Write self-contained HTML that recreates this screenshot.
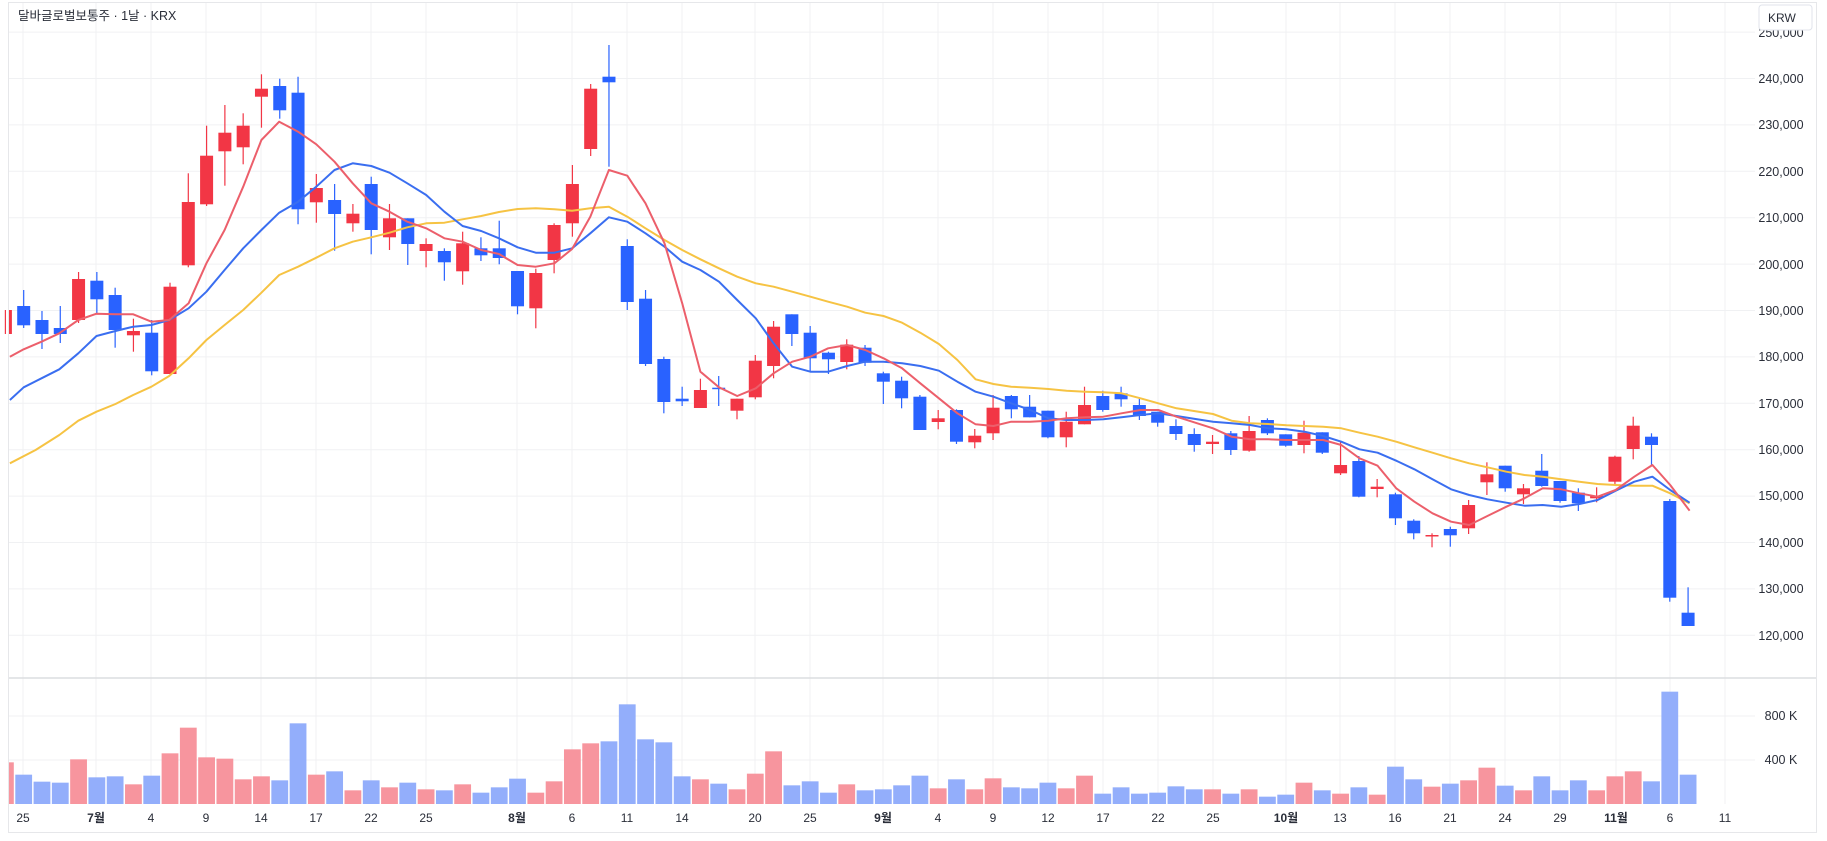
<!DOCTYPE html>
<html><head><meta charset="utf-8">
<style>
html,body{margin:0;padding:0;background:#fff;width:1827px;height:841px;overflow:hidden}
svg{display:block}
text{font-family:"Liberation Sans","Noto Sans CJK KR",sans-serif;fill:#2a2e39}
</style></head>
<body>
<svg id="s" width="1827" height="841" viewBox="0 0 1827 841" xmlns="http://www.w3.org/2000/svg">
<rect x="0" y="0" width="1827" height="841" fill="#fff"/>
<rect x="8.5" y="2.5" width="1808" height="830" fill="none" stroke="#e6e7ea"/>
<g id="grid"></g>
<line x1="9" y1="678" x2="1816" y2="678" stroke="#dcdde0" stroke-width="1.5"/>
<g id="vol"></g>
<g id="cand"></g>
<g id="ma"></g>
<g font-size="12.5" text-anchor="middle">
<text x="1781" y="83">240,000</text>
<text x="1781" y="129">230,000</text>
<text x="1781" y="176">220,000</text>
<text x="1781" y="222">210,000</text>
<text x="1781" y="269">200,000</text>
<text x="1781" y="315">190,000</text>
<text x="1781" y="361">180,000</text>
<text x="1781" y="408">170,000</text>
<text x="1781" y="454">160,000</text>
<text x="1781" y="500">150,000</text>
<text x="1781" y="547">140,000</text>
<text x="1781" y="593">130,000</text>
<text x="1781" y="640">120,000</text>
<text x="1781" y="37">250,000</text>
<text x="1781" y="720">800 K</text>
<text x="1781" y="764">400 K</text>
</g>
<rect x="1759" y="5" width="53" height="25" rx="3" fill="#fff" stroke="#e0e3eb"/>
<text x="1768" y="22" font-size="12">KRW</text>
<text x="18" y="20" font-size="12.5">달바글로벌보통주 · 1날 · KRX</text>
<g font-size="12" text-anchor="middle">
<text x="23" y="822">25</text><text x="96" y="822" font-weight="bold">7월</text>
<text x="151" y="822">4</text><text x="206" y="822">9</text><text x="261" y="822">14</text>
<text x="316" y="822">17</text><text x="371" y="822">22</text><text x="426" y="822">25</text>
<text x="517" y="822" font-weight="bold">8월</text><text x="572" y="822">6</text>
<text x="627" y="822">11</text><text x="682" y="822">14</text><text x="755" y="822">20</text>
<text x="810" y="822">25</text><text x="883" y="822" font-weight="bold">9월</text>
<text x="938" y="822">4</text><text x="993" y="822">9</text><text x="1048" y="822">12</text>
<text x="1103" y="822">17</text><text x="1158" y="822">22</text><text x="1213" y="822">25</text>
<text x="1286" y="822" font-weight="bold">10월</text><text x="1340" y="822">13</text>
<text x="1395" y="822">16</text><text x="1450" y="822">21</text><text x="1505" y="822">24</text>
<text x="1560" y="822">29</text><text x="1616" y="822" font-weight="bold">11월</text>
<text x="1670" y="822">6</text><text x="1725" y="822">11</text>
</g>
</svg>
<script>
var NS="http://www.w3.org/2000/svg";
function el(p,t,a){var e=document.createElementNS(NS,t);for(var k in a)e.setAttribute(k,a[k]);p.appendChild(e);return e;}
var X=function(k){return 5.4+k*18.29;};
var grid=document.getElementById('grid');
var vx=[23,96,151,206,261,316,371,426,517,572,627,682,755,810,883,938,993,1048,1103,1158,1213,1286,1340,1395,1450,1505,1560,1616,1670,1725];
vx.forEach(function(x){el(grid,'line',{x1:x,y1:3,x2:x,y2:804,stroke:'#f0f1f3','stroke-width':1});});
for(var p=250000;p>=120000;p-=10000){var y=78.5+(240000-p)/10000*46.4;el(grid,'line',{x1:9,y1:y,x2:1755,y2:y,stroke:'#f0f1f3'});}
[716,760].forEach(function(y){el(grid,'line',{x1:9,y1:y,x2:1755,y2:y,stroke:'#f0f1f3'});});
// candles: color, o, c, hi, lo (top/bottom y)
var C=[
['r',310,334,310,334],['b',306,325.3,290,328],['b',320,334,311,349],['b',328,334,306,343],['r',279,320,272,323],
['b',280.7,299.3,272,313],['b',295,330,287.7,347.7],['r',331,335.3,318.7,351.7],['b',332.7,371.3,320,375.3],['r',286.7,374,282.7,374],
['r',202,265.3,173.3,267.3],['r',155.7,204.3,125.7,206],['r',132.7,151.3,105,185.7],['r',125.7,147.3,113.3,164.3],['r',88.7,96.7,74.3,127.7],
['b',86,110.3,78.7,118.7],['b',92.7,209.3,76.7,224.3],['r',188,202.3,174,222.7],['b',200,214,184,250.7],['r',213.7,223.3,204,231.7],
['b',184,230,176.7,254.3],['r',218.3,237.3,204,250],['b',218.3,244,218.3,265],['r',244,251,238.3,267.3],['b',251,262.3,248.3,280.7],
['r',243.3,271.3,231.7,284.7],['b',248.3,255.3,237.3,261],['b',248.3,258,220.7,264.3],['b',271,306.3,271,314.3],['r',273,308.3,268.7,328.3],
['r',225,260,223.3,273.3],['r',184,223.3,165,236.7],['r',88.7,149,84,156],['b',76.7,82.3,45,166.7],
['b',246,302,239.3,310],['b',298.7,364,290,366],['b',359,402,356.7,413.3],['b',398.7,401.3,386.7,406],['r',390,408,378.7,408],
['b',387.7,388.7,376,406],['r',398.7,410.7,398.7,419.3],['r',360.7,397.3,355,399.3],['r',326.7,366,321,378.3],['b',314.3,334,314.3,346],
['b',332.7,358.3,326,371.7],['b',352.7,359.3,351.7,374],['r',344.7,362,339.3,369.3],['b',347.7,362.7,345,366],['b',373.3,381.7,371.7,404],
['b',380.7,398.3,376.7,408.3],['b',396.7,430,395,430],['r',418.3,422,410,429.3],['b',410,441.7,409.3,444],['r',435.7,442.3,429,448.3],
['r',407.7,433.3,395,440],['b',396,409.3,395,418.3],['b',406.7,417.3,395,417.3],['b',410.7,437.3,410.7,438.3],['r',421.7,437.3,411.7,447.3],
['r',405,424.3,386.7,424.3],['b',396,410,390.7,411.7],['b',393.3,399.3,386.7,406.7],['b',405,416,398.3,420],['b',411.7,422.7,411.7,426.7],
['b',426,434,419.3,440],['b',434,445,428.3,451.7],['r',441.7,444,435,454],['b',433.3,450,431,455],['r',431,450.7,416,451.7],
['b',420,433.3,418.3,435],['b',434.3,445.7,434.3,446.7],['r',432.7,445,420.7,453.3],['b',432.3,452.7,432.3,454],['r',465,473.3,440.7,475],
['b',461,496.7,456,497.3],['r',486.7,489,479,497.3],['b',494.3,518.3,492.7,525],['b',520.7,533.3,519.3,539.3],['r',535,536.3,533.3,547.3],
['b',529,535.3,526.7,546.7],['r',505,528.3,500,534],['r',474.3,482.3,462.3,495],['b',465.7,488.3,465.7,491.7],['r',488.3,494.3,484,504],
['b',470.7,486,454,486.7],['b',481,501,481,502.7],['b',492.7,503.3,488.3,511],['r',495.7,498.3,487.3,502.3],['r',456.7,481.7,455.7,484],
['r',425.7,449,416.7,459.3],['b',436.7,445,433.3,465],['b',501,597.7,499,601.7],['b',612.7,626,587.3,626]];
var V=[247,284,305,308,238,292,289,313,287,220,143,232,236,298,289,301,130,284,274,331,301,322,308,328,331,313,338,322,296,338,304,208,190,184,73,178,187,289,298,311,328,281,214,316,304,338,313,331,328,316,287,
325,298,328,295,322,325,308,325,287,341,322,341,338,319,328,328,341,328,350,344,308,331,341,322,344,260,298,320,311,301,263,317,331,289,331,301,331,289,274,304,35,284];
var cg=document.getElementById('cand'),vg=document.getElementById('vol');
C.forEach(function(c,k){
  var x=X(k),col=c[0]=='r'?'#f23645':'#2962ff',vc=c[0]=='r'?'#f7959e':'#93aefb';
  var top=Math.min(c[1],c[2]),bot=Math.max(c[1],c[2]),h=Math.max(bot-top,1.5);
  var hi=Math.min(c[3],top),lo=Math.max(c[4],bot);
  el(cg,'line',{x1:x,y1:hi,x2:x,y2:lo,stroke:col,'stroke-width':1.2});
  var l=Math.max(x-6.5,9);el(cg,'rect',{x:l,y:top,width:x+6.5-l,height:h,fill:col});
  var vt=680+V[k]/3;var vl=Math.max(x-8.4,9);
  el(vg,'rect',{x:vl,y:vt,width:x+8.4-vl,height:804-vt,fill:vc});
});
function path(segs,col){
  var pts=[];segs.forEach(function(s){s.pts.forEach(function(q){pts.push([s.x0+q[0]*s.sx,s.y0+q[1]/3]);});});
  pts.sort(function(a,b){return a[0]-b[0];});
  var out=[],last=-1e9;pts.forEach(function(q){if(q[0]-last>4){out.push(q);last=q[0];}});
  el(document.getElementById('ma'),'polyline',{points:out.map(function(q){return q[0].toFixed(1)+','+q[1].toFixed(1)}).join(' '),fill:'none',stroke:col,'stroke-width':2,'stroke-linejoin':'round'});
}
var z4={x0:0,sx:0.3954,y0:30},z5={x0:600,sx:0.3954,y0:30},z6={x0:1180,sx:0.4126,y0:300};
function seg(z,p,lim){return {x0:z.x0,sx:z.sx,y0:z.y0,pts:p.filter(function(q){var ax=z.x0+q[0]*z.sx;return ax>=lim[0]&&ax<lim[1];})};}
var R4=[[25,980],[60,958],[105,935],[150,910],[198,870],[244,851],[292,853],[337,853],[383,875],[428,870],[477,820],[522,700],[568,600],[615,470],[661,330],[706,275],[754,305],[800,343],[846,395],[892,460],[939,520],[985,545],[1030,575],[1078,595],[1124,625],[1170,635],[1217,660],[1262,672],[1309,705],[1355,710],[1402,700],[1447,657],[1493,560],[1540,420]];
var B4=[[25,1110],[60,1072],[105,1045],[150,1018],[198,970],[244,918],[292,903],[337,890],[383,885],[428,870],[477,835],[522,785],[568,720],[615,655],[661,600],[706,548],[754,515],[800,470],[846,420],[892,400],[939,408],[985,428],[1030,460],[1078,495],[1124,545],[1170,588],[1217,603],[1262,625],[1309,652],[1355,668],[1402,668],[1447,655],[1493,610],[1540,562]];
var Y4=[[25,1300],[90,1260],[150,1215],[198,1172],[244,1145],[292,1122],[337,1095],[383,1070],[428,1038],[477,985],[522,930],[568,885],[615,840],[661,788],[706,735],[754,710],[800,683],[846,655],[892,635],[939,622],[985,608],[1030,592],[1078,580],[1124,578],[1170,568],[1217,558],[1262,546],[1309,537],[1355,535],[1402,538],[1447,542],[1493,535],[1540,530]];
var R5=[[69,437],[115,520],[163,640],[208,820],[254,1025],[301,1072],[347,1098],[394,1075],[439,1030],[486,995],[532,980],[577,955],[625,945],[671,960],[717,985],[764,1015],[810,1060],[857,1105],[904,1150],[950,1183],[995,1188],[1040,1175],[1088,1175],[1134,1172],[1180,1165],[1227,1162],[1273,1160],[1319,1150],[1367,1140],[1412,1140],[1458,1160],[1504,1185]];
var B5=[[69,575],[115,610],[163,650],[208,695],[254,720],[301,755],[347,810],[394,865],[439,940],[486,1010],[532,1025],[577,1025],[625,1008],[671,995],[717,995],[764,1000],[810,1008],[857,1022],[904,1055],[950,1085],[995,1100],[1040,1120],[1088,1140],[1134,1165],[1180,1170],[1227,1170],[1273,1168],[1319,1162],[1367,1155],[1412,1150],[1458,1158],[1504,1170]];
var Y5=[[69,560],[115,595],[163,630],[208,660],[254,688],[301,715],[347,740],[394,760],[439,770],[486,785],[532,800],[577,815],[625,830],[671,848],[717,858],[764,878],[810,908],[857,942],[904,990],[950,1048],[995,1062],[1040,1070],[1088,1073],[1134,1077],[1180,1082],[1227,1085],[1273,1087],[1319,1090],[1367,1105],[1412,1120],[1458,1135],[1504,1150]];
var Y6=[[80,342],[125,362],[170,370],[214,372],[258,376],[302,378],[347,380],[391,385],[435,398],[479,410],[524,425],[568,442],[612,458],[657,475],[701,490],[745,502],[791,515],[835,525],[879,530],[924,538],[968,545],[1012,552],[1056,555],[1101,557],[1145,557],[1188,580],[1235,610]];
var B6=[[80,365],[125,370],[170,375],[214,385],[258,388],[302,395],[347,408],[391,425],[435,448],[479,458],[524,482],[568,508],[612,538],[657,568],[701,585],[745,598],[791,608],[835,617],[879,615],[924,620],[968,612],[1012,600],[1056,572],[1101,545],[1145,530],[1188,570],[1235,608]];
var R6=[[80,385],[125,410],[170,418],[214,418],[258,420],[302,420],[347,420],[391,435],[435,475],[479,497],[524,565],[568,605],[612,640],[657,665],[701,675],[745,648],[791,620],[835,595],[879,565],[924,568],[968,580],[1012,590],[1056,570],[1101,530],[1145,495],[1188,555],[1235,632]];
path([seg(z4,Y4,[9,620]),seg(z5,Y5,[620,1190]),seg(z6,Y6,[1190,1700])],'#f6c343');
path([seg(z4,B4,[9,620]),seg(z5,B5,[620,1190]),seg(z6,B6,[1190,1700])],'#3a6ef0');
path([seg(z4,R4,[9,620]),seg(z5,R5,[620,1190]),seg(z6,R6,[1190,1700])],'#ec5f6b');
</script>
</body></html>
